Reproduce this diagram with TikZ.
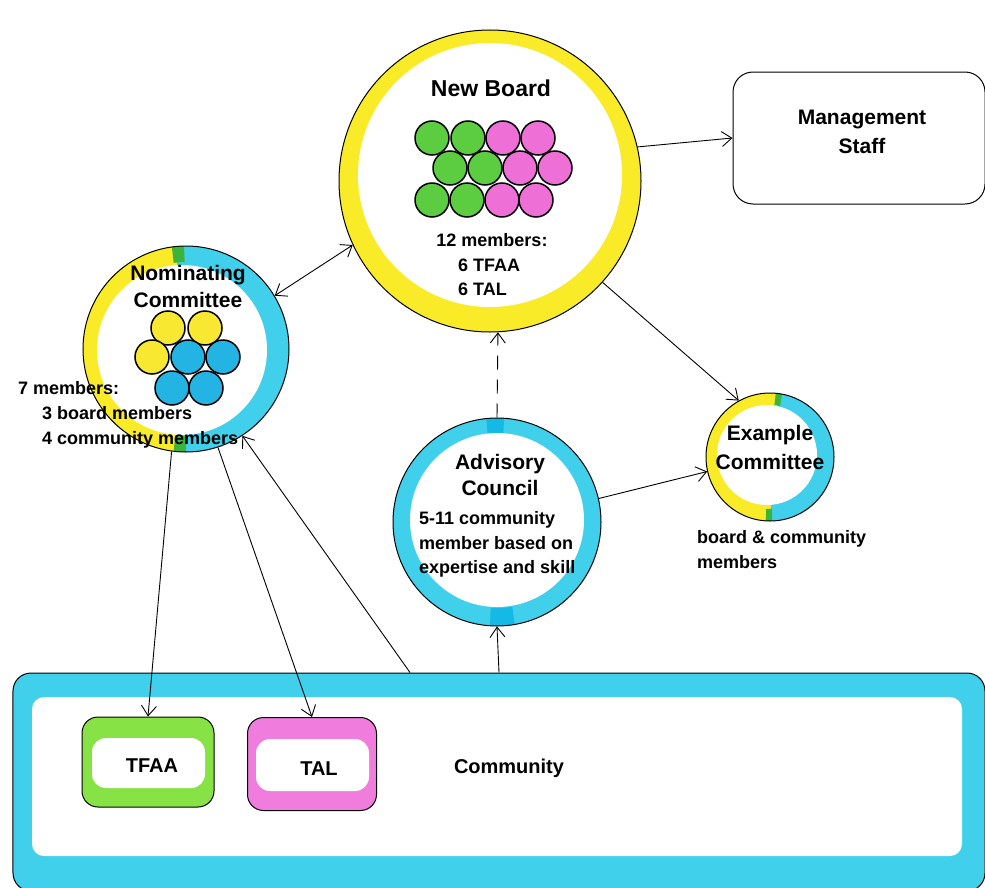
\documentclass[tikz,border=0pt]{standalone}
\usepackage{fontspec}
\setmainfont{Liberation Sans}
\usetikzlibrary{arrows.meta}
\definecolor{markyellow}{RGB}{250,235,40}
\definecolor{markcyan}{RGB}{64,208,236}
\definecolor{markgreen}{RGB}{60,180,60}
\definecolor{darkcyan}{RGB}{20,185,230}
\definecolor{seatgreen}{RGB}{92,204,64}
\definecolor{seatpink}{RGB}{238,112,214}
\definecolor{seatyellow}{RGB}{248,232,50}
\definecolor{seatblue}{RGB}{35,180,228}
\definecolor{boxgreen}{RGB}{135,226,70}
\definecolor{boxpink}{RGB}{240,125,222}
\tikzset{
  >={Straight Barb[length=10bp,width=15bp]},
  outline/.style={draw=black, line width=1bp, inner sep=0pt},
  seat/.style={circle, draw=black, line width=1.5bp, minimum size=34bp, inner sep=0pt},
  txt/.style={font=\bfseries\fontsize{18bp}{22bp}\selectfont, inner sep=0pt, text height=13bp, text depth=0pt},
  bigtxt/.style={txt, font=\bfseries\fontsize{21bp}{25bp}\selectfont, text height=15bp},
  link/.style={->, line width=0.9bp},
}
\begin{document}
\begin{tikzpicture}[x=1bp,y=1bp]
\useasboundingbox (0,0) rectangle (985,-888);
%
\coordinate (cb) at (490,-181);
\coordinate (cn) at (186,-349);
\coordinate (ca) at (497,-522);
\coordinate (ce) at (770,-457);
%
% marker rings
\fill[markyellow] (cb) circle (151);
\fill[white] (490,-175) circle (132);
%
\fill[markyellow] (cn) ++(95:103) arc (95:265:103) -- cycle;
\fill[markcyan] (cn) ++(-95:103) arc (-95:95:103) -- cycle;
\draw[markgreen, line width=16bp] (cn) ++(91:95) arc (91:98:95);
\draw[markgreen, line width=16bp] (cn) ++(263:95) arc (263:270:95);
\fill[white] (182,-350) circle (85);
%
\fill[markcyan] (ca) circle (104);
\draw[darkcyan, line width=18bp] (ca) ++(86:95) arc (86:96:95);
\draw[darkcyan, line width=18bp] (ca) ++(266:95) arc (266:280:95);
\fill[white] (497,-520) circle (87);
%
\fill[markyellow] (ce) ++(83:64) arc (83:270:64) -- cycle;
\fill[markcyan] (ce) ++(-90:64) arc (-90:83:64) -- cycle;
\draw[markgreen, line width=12bp] (ce) ++(79:58) arc (79:85:58);
\draw[markgreen, line width=12bp] (ce) ++(266:58) arc (266:272:58);
\fill[white] (767,-455) circle (50);
%
% shapes
\node[outline, circle, minimum size=302bp] (board) at (cb) {};
\node[outline, circle, minimum size=206bp] (nomin) at (cn) {};
\node[outline, circle, minimum size=208bp] (advisory) at (ca) {};
\node[outline, circle, minimum size=128bp] (example) at (ce) {};
\node[outline, rounded corners=20bp, minimum width=252bp, minimum height=132bp] (mgmt) at (859,-138) {};
%
\node[outline, fill=markcyan, rounded corners=18bp, minimum width=972bp, minimum height=218bp] (community) at (499,-782) {};
\fill[white, rounded corners=12bp] (32,-697) rectangle (962,-856);
\node[outline, fill=boxgreen, rounded corners=16bp, minimum width=132bp, minimum height=90bp] (tfaa) at (148,-762) {};
\fill[white, rounded corners=14bp] (92,-738) rectangle (205,-788);
\node[outline, fill=boxpink, rounded corners=16bp, minimum width=129bp, minimum height=93bp] (tal) at (312,-764) {};
\fill[white, rounded corners=14bp] (256,-739) rectangle (369,-791);
%
% seats
\foreach \x/\y/\c [count=\i] in {432/138/seatgreen, 468/138/seatgreen, 503/138/seatpink, 538/138/seatpink,
    450/168/seatgreen, 485/168/seatgreen, 520/168/seatpink, 555/168/seatpink,
    432/200/seatgreen, 467/200/seatgreen, 502/200/seatpink, 536/200/seatpink}
  \node[seat, fill=\c] (bseat\i) at (\x,-\y) {};
\foreach \x/\y/\c [count=\i] in {168/328/seatyellow, 205/328/seatyellow, 152/357/seatyellow,
    188/357/seatblue, 223/357/seatblue, 172/388/seatblue, 206/388/seatblue}
  \node[seat, fill=\c] (nseat\i) at (\x,-\y) {};
%
% texts
\node[bigtxt, font=\bfseries\fontsize{23bp}{27bp}\selectfont, text height=16bp] (boardname) at (491,-88) {New Board};
\node[txt] (boardcount) at (492,-240) {12 members:};
\node[txt, anchor=west] (boardtfaa) at (458,-265) {6 TFAA};
\node[txt, anchor=west] (boardtal) at (458,-289) {6 TAL};
%
\node[bigtxt] (nominname) at (188,-273) {Nominating};
\node[bigtxt] (nominname2) at (188,-300) {Committee};
\node[txt, anchor=west] (nomincount) at (18,-388) {7 members:};
\node[txt, anchor=west] (nominboard) at (42,-413) {3 board members};
\node[txt, anchor=west] (nomincomm) at (42,-438) {4 community members};
%
\node[bigtxt] (mgmtname) at (862,-117) {Management};
\node[bigtxt] (mgmtname2) at (862,-146) {Staff};
%
\node[bigtxt] (advname) at (500,-462) {Advisory};
\node[bigtxt] (advname2) at (500,-488) {Council};
\node[txt, anchor=west] (advtext) at (419,-518) {5-11 community};
\node[txt, anchor=west] (advtext2) at (419,-543) {member based on};
\node[txt, anchor=west] (advtext3) at (419,-567) {expertise and skill};
%
\node[bigtxt] (exname) at (770,-433) {Example};
\node[bigtxt] (exname2) at (770,-462) {Committee};
\node[txt, anchor=west] (extext) at (697,-537) {board \& community};
\node[txt, anchor=west] (extext2) at (697,-562) {members};
%
\node[bigtxt, font=\bfseries\fontsize{20bp}{24bp}\selectfont, text height=14bp] (tfaaname) at (152,-765) {TFAA};
\node[bigtxt, font=\bfseries\fontsize{20bp}{24bp}\selectfont, text height=14bp] (talname) at (319,-768) {TAL};
\node[bigtxt, font=\bfseries\fontsize{20bp}{24bp}\selectfont, text height=14bp] (commname) at (509,-766) {Community};
%
% connectors
\draw[link, <->] (nomin.31) -- (board.205);
\draw[link] (board.13) -- (mgmt.west);
\draw[link] (board.318) -- (example.119);
\draw[link, dash pattern=on 14bp off 10bp] (advisory.north) -- (board.273);
\draw[link] (advisory.13) -- (example.193);
\draw[link] (community.north) -- (advisory.south);
\draw[link] (nomin.262) -- (tfaa.north);
\draw[link] (nomin.288) -- (tal.north);
\draw[link] ([xshift=-89bp]community.north) -- (nomin.303);
\end{tikzpicture}
\end{document}
